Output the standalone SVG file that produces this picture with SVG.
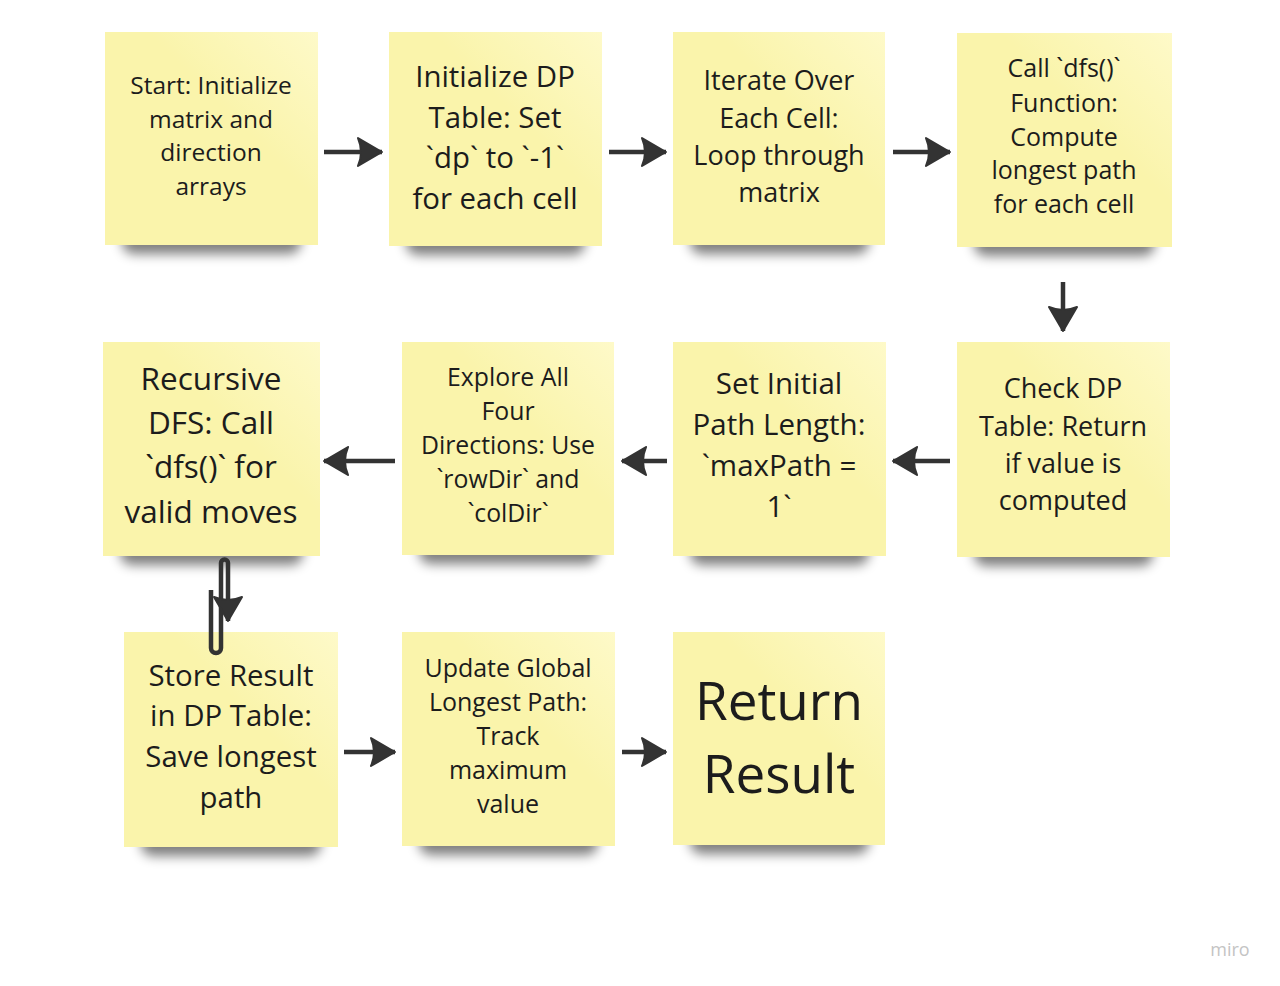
<svg xmlns="http://www.w3.org/2000/svg" width="1280" height="986" viewBox="0 0 1280 986">
<defs>
<filter id="sh" x="-20%" y="-100%" width="140%" height="300%"><feGaussianBlur stdDeviation="6"/></filter>
<linearGradient id="fold" x1="1" y1="0" x2="0.6" y2="0.4"><stop offset="0" stop-color="#fffbd0" stop-opacity="0.8"/><stop offset="1" stop-color="#fffbd0" stop-opacity="0"/></linearGradient>
<marker id="ah" viewBox="0 0 27 32" refX="26" refY="16" markerWidth="27" markerHeight="32" markerUnits="userSpaceOnUse" orient="auto">
<path d="M26 16 L2 2 Q8 16 2 30 Z" fill="#333" stroke="#333" stroke-width="2" stroke-linejoin="round"/>
</marker>
<style>
.note{fill:#faf4ab}
.shadow{fill:#000;opacity:0.5;filter:url(#sh)}
.t{font-family:"Open Sans","Liberation Sans",sans-serif;fill:#1c1c1c;text-anchor:middle}
.c{fill:none;stroke:#333;stroke-width:4.5;marker-end:url(#ah)}
</style>
</defs>
<rect width="1280" height="986" fill="#ffffff"/>

<g id="n1">
<rect class="shadow" x="122" y="228" width="179" height="26" rx="12"/>
<rect class="note" x="105" y="32" width="213" height="213"/>
<rect x="105" y="32" width="213" height="213" fill="url(#fold)"/>
<text class="t" font-size="24.5"><tspan x="211" y="94">Start: Initialize</tspan><tspan x="211" y="128">matrix and</tspan><tspan x="211" y="161">direction</tspan><tspan x="211" y="195">arrays</tspan></text>
</g>
<g id="n2">
<rect class="shadow" x="406" y="229" width="179" height="26" rx="12"/>
<rect class="note" x="389" y="32" width="213" height="214"/>
<rect x="389" y="32" width="213" height="214" fill="url(#fold)"/>
<text class="t" font-size="29.4"><tspan x="495" y="87">Initialize DP</tspan><tspan x="495" y="128">Table: Set</tspan><tspan x="495" y="168">`dp` to `-1`</tspan><tspan x="495" y="209">for each cell</tspan></text>
</g>
<g id="n3">
<rect class="shadow" x="690" y="228" width="179" height="26" rx="12"/>
<rect class="note" x="673" y="32" width="212" height="213"/>
<rect x="673" y="32" width="212" height="213" fill="url(#fold)"/>
<text class="t" font-size="27"><tspan x="779" y="90">Iterate Over</tspan><tspan x="779" y="128">Each Cell:</tspan><tspan x="779" y="165">Loop through</tspan><tspan x="779" y="202">matrix</tspan></text>
</g>
<g id="n4">
<rect class="shadow" x="974" y="230" width="181" height="26" rx="12"/>
<rect class="note" x="957" y="33" width="215" height="214"/>
<rect x="957" y="33" width="215" height="214" fill="url(#fold)"/>
<text class="t" font-size="25"><tspan x="1064" y="77">Call `dfs()`</tspan><tspan x="1064" y="112">Function:</tspan><tspan x="1064" y="146">Compute</tspan><tspan x="1064" y="179">longest path</tspan><tspan x="1064" y="213">for each cell</tspan></text>
</g>
<g id="n5">
<rect class="shadow" x="120" y="539" width="183" height="26" rx="12"/>
<rect class="note" x="103" y="342" width="217" height="214"/>
<rect x="103" y="342" width="217" height="214" fill="url(#fold)"/>
<text class="t" font-size="31.5"><tspan x="211" y="390">Recursive</tspan><tspan x="211" y="434">DFS: Call</tspan><tspan x="211" y="478">`dfs()` for</tspan><tspan x="211" y="523">valid moves</tspan></text>
</g>
<g id="n6">
<rect class="shadow" x="419" y="538" width="179" height="26" rx="12"/>
<rect class="note" x="402" y="342" width="212" height="213"/>
<rect x="402" y="342" width="212" height="213" fill="url(#fold)"/>
<text class="t" font-size="24.8"><tspan x="508" y="386">Explore All</tspan><tspan x="508" y="420">Four</tspan><tspan x="508" y="454">Directions: Use</tspan><tspan x="508" y="488">`rowDir` and</tspan><tspan x="508" y="522">`colDir`</tspan></text>
</g>
<g id="n7">
<rect class="shadow" x="690" y="539" width="179" height="26" rx="12"/>
<rect class="note" x="673" y="342" width="213" height="214"/>
<rect x="673" y="342" width="213" height="214" fill="url(#fold)"/>
<text class="t" font-size="29.5"><tspan x="779" y="394">Set Initial</tspan><tspan x="779" y="435">Path Length:</tspan><tspan x="779" y="476">`maxPath =</tspan><tspan x="779" y="517">1`</tspan></text>
</g>
<g id="n8">
<rect class="shadow" x="974" y="540" width="179" height="26" rx="12"/>
<rect class="note" x="957" y="342" width="213" height="215"/>
<rect x="957" y="342" width="213" height="215" fill="url(#fold)"/>
<text class="t" font-size="27"><tspan x="1063" y="398">Check DP</tspan><tspan x="1063" y="436">Table: Return</tspan><tspan x="1063" y="473">if value is</tspan><tspan x="1063" y="510">computed</tspan></text>
</g>
<g id="n9">
<rect class="shadow" x="141" y="830" width="180" height="26" rx="12"/>
<rect class="note" x="124" y="632" width="214" height="215"/>
<rect x="124" y="632" width="214" height="215" fill="url(#fold)"/>
<text class="t" font-size="29.4"><tspan x="231" y="686">Store Result</tspan><tspan x="231" y="726">in DP Table:</tspan><tspan x="231" y="767">Save longest</tspan><tspan x="231" y="808">path</tspan></text>
</g>
<g id="n10">
<rect class="shadow" x="419" y="829" width="179" height="26" rx="12"/>
<rect class="note" x="402" y="632" width="213" height="214"/>
<rect x="402" y="632" width="213" height="214" fill="url(#fold)"/>
<text class="t" font-size="25"><tspan x="508" y="677">Update Global</tspan><tspan x="508" y="711">Longest Path:</tspan><tspan x="508" y="745">Track</tspan><tspan x="508" y="779">maximum</tspan><tspan x="508" y="813">value</tspan></text>
</g>
<g id="n11">
<rect class="shadow" x="690" y="828" width="179" height="26" rx="12"/>
<rect class="note" x="673" y="632" width="212" height="213"/>
<rect x="673" y="632" width="212" height="213" fill="url(#fold)"/>
<text class="t" font-size="53"><tspan x="779" y="720">Return</tspan><tspan x="779" y="793">Result</tspan></text>
</g>

<g id="connectors">
<line class="c" x1="324" y1="152" x2="382" y2="152"/>
<line class="c" x1="609" y1="152" x2="666" y2="152"/>
<line class="c" x1="893" y1="152" x2="950" y2="152"/>
<line class="c" x1="1063" y1="282" x2="1063" y2="331"/>
<line class="c" x1="950" y1="461" x2="893" y2="461"/>
<line class="c" x1="667" y1="461" x2="622" y2="461"/>
<line class="c" x1="395" y1="461" x2="324" y2="461"/>
<path class="c" stroke-width="3.5" d="M211 590 L211 648 A5 5 0 0 0 221 648 L221 563 A3.5 3.5 0 0 1 228 563 L228 621"/>
<line class="c" x1="344" y1="752" x2="395" y2="752"/>
<line class="c" x1="622" y1="752" x2="666" y2="752"/>
</g>
<text x="1230" y="956" font-family="Open Sans, Liberation Sans, sans-serif" font-size="18" fill="#c4c4c4" text-anchor="middle">miro</text>
</svg>
